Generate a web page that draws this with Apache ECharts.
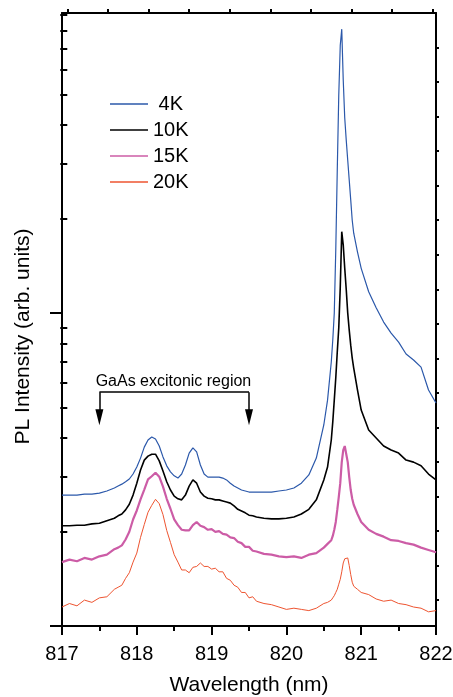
<!DOCTYPE html>
<html><head><meta charset="utf-8">
<script src="https://cdn.jsdelivr.net/npm/echarts@6/dist/echarts.min.js"></script>
<style>html,body{margin:0;padding:0;background:#fff}#c{width:453px;height:697px}</style>
</head><body><div id="c"></div>
<script>
// Wavelength grid (nm)
const wavelength = [817.0,817.1,817.2,817.3,817.4,817.5,817.6,817.7,
817.75,817.8,817.85,817.9,817.95,818.0,818.05,818.1,818.15,818.2,818.25,818.3,818.35,818.4,818.45,818.5,818.55,818.6,818.65,818.7,818.75,818.8,818.85,818.9,818.95,819.0,819.05,819.1,819.15,819.2,819.25,819.3,819.35,819.4,819.45,819.5,819.55,819.6,
819.7,819.8,819.9,820.0,820.1,820.2,820.3,820.4,820.5,
820.55,820.6,820.62,820.64,820.66,820.68,820.7,820.72,820.74,820.76,820.78,820.8,820.82,820.84,820.86,820.88,820.9,
820.95,821.0,821.1,821.2,821.3,821.4,821.5,821.6,821.7,821.8,821.9,822.0];

// PL intensity (arb. units)
const i4K = [2.62,2.62,2.62,2.64,2.64,2.66,2.70,2.76,
2.80,2.84,2.89,2.95,3.06,3.22,3.44,3.73,3.93,4.02,3.96,3.76,3.47,3.25,3.11,3.02,2.97,3.06,3.27,3.57,3.71,3.60,3.27,3.06,2.99,2.99,2.99,2.99,2.97,2.93,2.86,2.80,2.76,2.72,2.70,2.68,2.68,2.68,
2.68,2.68,2.70,2.72,2.76,2.86,3.04,3.44,4.39,
5.27,6.98,8.20,10.0,15.9,28.6,49.7,71.8,80.8,55.5,42.0,35.7,30.8,26.6,23.0,19.8,18.0,
15.7,13.9,11.7,10.4,9.36,8.63,8.08,7.40,7.08,6.72,5.68,5.16];

const i10K = [2.09,2.09,2.10,2.10,2.12,2.13,2.17,2.21,
2.25,2.28,2.35,2.45,2.62,2.86,3.15,3.39,3.49,3.54,3.54,3.37,3.13,2.89,2.72,2.60,2.55,2.53,2.62,2.80,2.93,2.86,2.68,2.60,2.56,2.55,2.53,2.53,2.51,2.49,2.47,2.42,2.36,2.33,2.30,2.26,2.25,2.23,
2.21,2.20,2.20,2.21,2.23,2.28,2.36,2.53,2.93,
3.22,3.93,4.49,5.27,6.20,7.51,8.96,12.1,18.2,16.5,13.9,11.9,10.0,8.82,7.90,7.18,6.67,
5.68,4.90,4.23,3.99,3.76,3.65,3.57,3.39,3.34,3.25,3.06,2.93];

const i15K = [1.60,1.63,1.61,1.65,1.63,1.67,1.69,1.76,
1.78,1.81,1.89,2.00,2.19,2.34,2.54,2.73,2.94,3.01,3.09,3.00,2.79,2.55,2.37,2.19,2.10,2.03,2.02,2.02,2.10,2.15,2.09,2.07,2.03,2.04,2.00,2.01,1.97,1.96,1.92,1.91,1.86,1.84,1.79,1.79,1.74,1.73,
1.70,1.69,1.67,1.66,1.67,1.65,1.69,1.71,1.78,
1.83,1.88,1.94,2.03,2.15,2.35,2.58,2.86,3.34,3.65,3.76,3.71,3.34,2.99,2.72,2.55,2.44,
2.28,2.15,2.03,1.97,1.93,1.88,1.87,1.84,1.82,1.78,1.75,1.72];

const i20K = [1.15,1.18,1.16,1.21,1.19,1.23,1.24,1.31,
1.33,1.35,1.42,1.48,1.60,1.71,1.92,2.11,2.31,2.43,2.54,2.46,2.27,2.02,1.85,1.69,1.60,1.51,1.51,1.48,1.54,1.55,1.59,1.55,1.55,1.52,1.53,1.49,1.49,1.42,1.40,1.35,1.33,1.28,1.28,1.23,1.24,1.20,
1.18,1.17,1.15,1.13,1.14,1.13,1.12,1.14,1.18,
1.19,1.21,1.23,1.25,1.28,1.31,1.36,1.41,1.49,1.59,1.64,1.66,1.65,1.56,1.46,1.38,1.34,
1.31,1.28,1.26,1.22,1.20,1.21,1.18,1.17,1.15,1.14,1.11,1.12];

const seriesNames = ['4K', '10K', '15K', '20K'];
const xTickValues = [817, 818, 819, 820, 821, 822];
const leftMajorTicks = [1, 10];
const leftMinorTicks = [2, 3, 4, 5, 6, 7, 8, 9, 20, 30, 40, 50, 60, 70, 80, 90];
const topTicks = [0, 1, 2, 3, 4, 5, 6, 7, 8, 9];
const rightTicks = [1, 2, 3, 4, 5, 6, 7, 8, 9, 10, 11, 12, 13, 14, 15, 16, 17];
const xTitle = 'Wavelength (nm)';
const yTitle = 'PL Intensity (arb. units)';
const annotationText = 'GaAs excitonic region';
const bracketRange = [817.5, 819.5];
const bracketLevel = 5.59;
const arrowLevel = 4.65;
const annotationPos = [818.49, 6.06];

const FONT = '"Liberation Sans", Arial, Helvetica, sans-serif';
const colors = ['#2b58aa', '#000000', '#cc5ca6', '#ee5430'];
const widths = [1.2, 1.6, 2.2, 1];
const values = [i4K, i10K, i15K, i20K];

const chart = echarts.init(document.getElementById('c'), null, { renderer: 'canvas', width: 453, height: 697 });

const axisLineStyle = { color: '#000', width: 2 };
const arrowPath = 'path://M5,0 L10,20 L0,20 Z';

const series = seriesNames.map((name, k) => ({
  name: name,
  type: 'line',
  xAxisIndex: 0,
  yAxisIndex: 0,
  showSymbol: false,
  symbol: 'none',
  lineStyle: { color: colors[k], width: widths[k] },
  itemStyle: { color: colors[k] },
  data: wavelength.map((w, i) => [w, values[k][i]]),
  z: 10 - k
}));

series.push({
  name: 'annotation',
  type: 'line',
  xAxisIndex: 0,
  yAxisIndex: 0,
  showSymbol: false,
  symbol: 'none',
  lineStyle: { opacity: 0 },
  data: [[bracketRange[0], bracketLevel]],
  markLine: {
    silent: true,
    animation: false,
    symbol: ['none', 'none'],
    lineStyle: { color: '#000', width: 1.5, type: 'solid' },
    label: { show: false },
    data: [
      [{ coord: [bracketRange[0], bracketLevel] }, { coord: [bracketRange[1], bracketLevel] }],
      [{ coord: [bracketRange[0], bracketLevel] }, { coord: [bracketRange[0], arrowLevel], symbol: arrowPath, symbolSize: [8, 16] }],
      [{ coord: [bracketRange[1], bracketLevel] }, { coord: [bracketRange[1], arrowLevel], symbol: arrowPath, symbolSize: [8, 16] }]
    ]
  },
  markPoint: {
    silent: true,
    animation: false,
    symbol: 'circle',
    symbolSize: 1,
    itemStyle: { color: 'rgba(0,0,0,0)' },
    label: { show: true, position: 'inside', formatter: annotationText, color: '#000', fontSize: 16, fontFamily: FONT },
    data: [{ coord: annotationPos }]
  }
});

const option = {
  animation: false,
  backgroundColor: '#ffffff',
  grid: { left: 62, right: 17, top: 13, bottom: 71, containLabel: false, outerBoundsMode: 'none' },
  legend: {
    data: seriesNames,
    orient: 'vertical',
    left: 105,
    top: 89,
    itemWidth: 38,
    itemHeight: 1.5,
    itemGap: 6,
    icon: 'rect',
    formatter: n => (n === '4K' ? ' ' + n : n),
    textStyle: { color: '#000', fontSize: 20, fontFamily: FONT, lineHeight: 20 }
  },
  xAxis: [
    {
      type: 'value', min: 817, max: 822, interval: 1, position: 'bottom',
      axisLine: { show: true, onZero: false, lineStyle: axisLineStyle },
      axisTick: { show: true, inside: false, length: 9, lineStyle: axisLineStyle },
      minorTick: { show: true, splitNumber: 2, length: 5, lineStyle: axisLineStyle },
      splitLine: { show: false },
      axisLabel: { color: '#000', fontSize: 20, fontFamily: FONT, margin: 18, customValues: xTickValues },
      name: xTitle, nameLocation: 'middle', nameGap: 49,
      nameTextStyle: { color: '#000', fontSize: 21, fontFamily: FONT }
    },
    {
      type: 'value', min: -0.13, max: 9.08, position: 'top',
      axisLine: { show: true, onZero: false, lineStyle: axisLineStyle },
      axisTick: { show: true, inside: false, length: 4, lineStyle: axisLineStyle, customValues: topTicks },
      axisLabel: { show: false },
      splitLine: { show: false }
    }
  ],
  yAxis: [
    {
      type: 'log', logBase: 10, min: 1, max: 91, position: 'left',
      axisLine: { show: true, onZero: false, lineStyle: axisLineStyle },
      axisTick: { show: true, inside: false, length: 12, lineStyle: axisLineStyle, customValues: leftMajorTicks },
      axisLabel: { show: false },
      splitLine: { show: false },
      name: yTitle, nameLocation: 'middle', nameGap: 28,
      nameTextStyle: { color: '#000', fontSize: 21, fontFamily: FONT, padding: [0, 34, 0, 0] }
    },
    {
      type: 'log', logBase: 10, min: 1, max: 91, position: 'left',
      axisLine: { show: false },
      axisTick: { show: true, inside: false, length: 7, lineStyle: axisLineStyle, customValues: leftMinorTicks },
      axisLabel: { show: false },
      splitLine: { show: false }
    },
    {
      type: 'value', inverse: true, min: 0, max: 17.75, position: 'right',
      axisLine: { show: true, onZero: false, lineStyle: axisLineStyle },
      axisTick: { show: true, inside: false, length: 3, lineStyle: axisLineStyle, customValues: rightTicks },
      axisLabel: { show: false },
      splitLine: { show: false }
    }
  ],
  series: series
};
chart.setOption(option);
</script>
</body></html>
